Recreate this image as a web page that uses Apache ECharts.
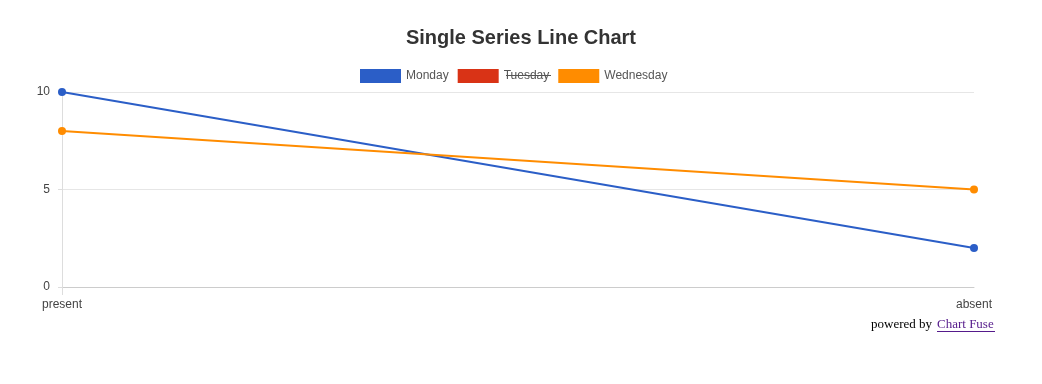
<!DOCTYPE html>
<html><head><meta charset="utf-8">
<script src="https://cdn.jsdelivr.net/npm/echarts@6/dist/echarts.min.js"></script>
<style>html,body{margin:0;padding:0;background:#fff}#c{width:1042px;height:384px}</style>
</head><body><div id="c"></div>
<script>
const categories = ['present', 'absent'];
const monday = [10, 2];
const tuesday = [];
const wednesday = [8, 5];
const yTicks = [0, 5, 10];

const chart = echarts.init(document.getElementById('c'));
chart.setOption({
  animation: false,
  textStyle: { fontFamily: 'Liberation Sans, Arial, sans-serif' },
  title: {
    text: 'Single Series Line Chart',
    left: 'center', top: 23,
    textStyle: { fontSize: 20, fontWeight: 'bold', color: '#333', fontFamily: 'Liberation Sans, Arial, sans-serif' }
  },
  legend: {
    top: 69, left: 360,
    itemWidth: 41, itemHeight: 14, itemGap: 9,
    icon: 'rect',
    padding: 0,
    textStyle: { fontSize: 12, color: '#555' },
    data: ['Monday', 'Tuesday', 'Wednesday']
  },
  grid: { left: 62, right: 68, top: 92, bottom: 97 },
  xAxis: {
    type: 'category', data: categories, boundaryGap: false,
    axisLine: { lineStyle: { color: '#ccc' } },
    axisTick: { show: true, length: 8, lineStyle: { color: '#ddd' }, interval: function (i) { return i === 0; } },
    axisLabel: { color: '#444', fontSize: 12, margin: 12 },
    splitLine: { show: false }
  },
  yAxis: {
    type: 'value', min: 0, max: 10, interval: 5,
    axisLine: { show: true, lineStyle: { color: '#ddd' } },
    axisTick: { show: true, length: 4, lineStyle: { color: '#ddd' } },
    axisLabel: { color: '#444', fontSize: 12, margin: 12 },
    splitLine: { lineStyle: { color: '#e6e6e6' } }
  },
  series: [
    { name: 'Monday', type: 'line', data: monday, color: '#2b5ec7', symbol: 'circle', symbolSize: 8, lineStyle: { width: 2 } },
    { name: 'Tuesday', type: 'line', data: tuesday, color: '#d93316', symbol: 'circle', symbolSize: 8, lineStyle: { width: 2 } },
    { name: 'Wednesday', type: 'line', data: wednesday, color: '#ff8c00', symbol: 'circle', symbolSize: 8, lineStyle: { width: 2 } }
  ],
  graphic: [
    { type: 'line', shape: { x1: 506, y1: 75.5, x2: 551, y2: 75.5 }, style: { stroke: '#555', lineWidth: 1 } },
    { type: 'text', left: 871, top: 318, style: { text: 'powered by', fill: '#000', font: '13px "Liberation Serif", serif' } },
    { type: 'text', left: 937, top: 318, style: { text: 'Chart Fuse', fill: '#551a8b', font: '13px "Liberation Serif", serif' } },
    { type: 'line', shape: { x1: 937, y1: 331.5, x2: 995, y2: 331.5 }, style: { stroke: '#551a8b', lineWidth: 1 } }
  ]
});
</script></body></html>
